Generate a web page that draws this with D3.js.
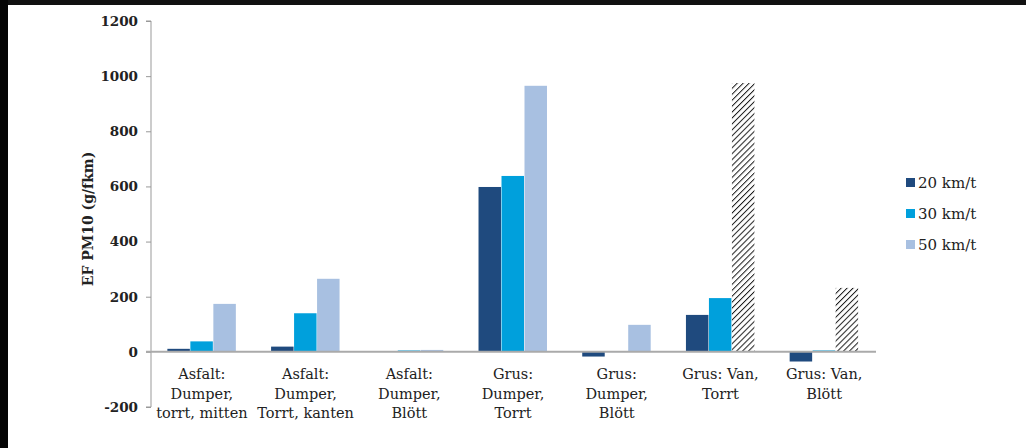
<!DOCTYPE html>
<html><head><meta charset="utf-8">
<script src="https://cdn.jsdelivr.net/npm/d3@7"></script>
<style>
html,body{margin:0;padding:0;background:#fff;}
svg{display:block;}
text{font-family:"DejaVu Serif",Georgia,serif;fill:#222;}
</style></head>
<body>
<script>
// ---- data ----
const categories = [
  "Asfalt:|Dumper,|torrt, mitten",
  "Asfalt:|Dumper,|Torrt, kanten",
  "Asfalt:|Dumper,|Blött",
  "Grus:|Dumper,|Torrt",
  "Grus:|Dumper,|Blött",
  "Grus: Van,|Torrt",
  "Grus: Van,|Blött"
];
const seriesNames = ["20 km/t", "30 km/t", "50 km/t"];
const v20 = [11, 19, 0, 598, -17, 134, -35];
const v30 = [38, 140, 5, 638, 3, 195, 5];
const v50 = [174, 265, 7, 965, 98, 975, 232];
const estimated50 = [5, 6]; // categories whose 50 km/t value is shown hatched
const yTicks = [-200, 0, 200, 400, 600, 800, 1000, 1200];
const yLabel = "EF PM10 (g/fkm)";

const colors = ["#1f4a7e", "#00a0dc", "#a8c0e1"];
const W = 1026, H = 448;

const svg = d3.select("body").append("svg").attr("width", W).attr("height", H);

// hatch pattern
const defs = svg.append("defs");
const pat = defs.append("pattern").attr("id","hatch").attr("patternUnits","userSpaceOnUse")
  .attr("width",4.2).attr("height",4.2).attr("patternTransform","rotate(45)");
pat.append("rect").attr("width",4.2).attr("height",4.2).attr("fill","#fff");
pat.append("line").attr("x1",0).attr("y1",0).attr("x2",0).attr("y2",4.2)
  .attr("stroke","#1a1a1a").attr("stroke-width",2);

// frame dark edges
svg.append("rect").attr("x",0).attr("y",0).attr("width",W).attr("height",H).attr("fill","#fff");
svg.append("rect").attr("x",0).attr("y",0).attr("width",W).attr("height",5).attr("fill","#111");
svg.append("rect").attr("x",0).attr("y",0).attr("width",8).attr("height",H).attr("fill","#050505");

const x0 = d3.scaleBand().domain(d3.range(categories.length)).range([150, 876])
  .paddingInner(0.335).paddingOuter(0.1675);
const x1 = d3.scaleBand().domain(d3.range(3)).range([0, x0.bandwidth()]);
const y = d3.scaleLinear().domain([-200, 1200]).range([407, 21]);

// y axis
const yAxis = d3.axisLeft(y).tickValues(yTicks).tickSize(5).tickPadding(8)
  .tickFormat(d => String(d));
const gy = svg.append("g").attr("transform","translate(151,0)").call(yAxis);
gy.select(".domain").attr("stroke","#999").attr("d","M-5,"+y(1200)+"H0V"+y(-200)+"H-5");
gy.selectAll(".tick line").attr("stroke","#999");
gy.selectAll(".tick text").attr("font-size",13.5).attr("font-weight","bold")
  .style("font-family","'DejaVu Serif',serif").attr("fill","#222");

// bars
const series = [v20, v30, v50];
const g = svg.append("g");
categories.forEach((c, i) => {
  series.forEach((vals, s) => {
    const v = vals[i];
    if (v === 0) return;
    const hatched = s === 2 && estimated50.includes(i);
    g.append("rect")
      .attr("x", x0(i) + x1(s))
      .attr("width", x1.bandwidth() - 0.5)
      .attr("y", y(Math.max(0, v)))
      .attr("height", Math.max(1, Math.abs(y(v) - y(0))))
      .attr("fill", hatched ? "url(#hatch)" : colors[s]);
  });
});

// zero line
svg.append("line").attr("x1",146).attr("x2",876).attr("y1",y(0)).attr("y2",y(0))
  .attr("stroke","#aaa").attr("stroke-width",2);

// category labels
categories.forEach((c, i) => {
  const t = svg.append("text").attr("text-anchor","middle").attr("font-size",14.5)
    .attr("x", x0(i) + x0.bandwidth()/2).attr("y", 379);
  c.split("|").forEach((line, k) => {
    t.append("tspan").attr("x", x0(i) + x0.bandwidth()/2).attr("dy", k ? 19.5 : 0).text(line);
  });
});

// y label
svg.append("text").attr("transform","translate(93,219) rotate(-90)")
  .attr("text-anchor","middle").attr("font-size",14).attr("font-weight","bold").text(yLabel);

// legend
const lg = svg.append("g");
seriesNames.forEach((n, s) => {
  const yy = 183 + s * 31;
  lg.append("rect").attr("x",906).attr("y",yy-5).attr("width",9).attr("height",9).attr("fill",colors[s]);
  lg.append("text").attr("x",918).attr("y",yy+5).attr("font-size",15).text(n);
});
</script>
</body></html>
